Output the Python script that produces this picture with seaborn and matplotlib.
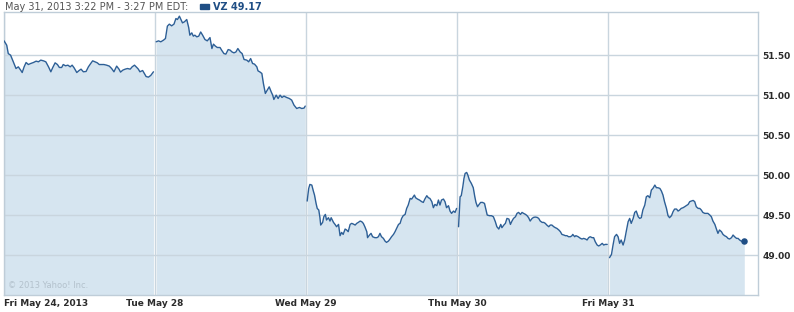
import numpy as np
import pandas as pd
import matplotlib
matplotlib.use("Agg")
import matplotlib.pyplot as plt
from matplotlib.patches import Rectangle
import seaborn as sns

# ---------------- data (minutes after 9:30 open, price) ----------------
day_labels = ["Fri May 24, 2013", "Tue May 28", "Wed May 29", "Thu May 30", "Fri May 31"]
y_ticks = [49.0, 49.5, 50.0, 50.5, 51.0, 51.5]

day0_t = [0, 7, 11, 17, 24, 31, 37, 43, 47, 52, 57, 63, 69, 76, 83, 89, 95, 102, 108, 115,
          121, 126, 132, 138, 143, 149, 153, 159, 165, 171, 176, 181, 188, 194, 199, 205, 212, 218, 224, 229,
          235, 241, 246, 252, 258, 265, 272, 278, 284, 291, 297, 301, 307, 313, 319, 326, 331, 337, 343, 347,
          351, 358, 362, 367, 373, 379, 386]
day0_p = [51.68, 51.625, 51.52, 51.50, 51.417, 51.333, 51.354, 51.313, 51.283, 51.354,
          51.408, 51.383, 51.396, 51.408, 51.425, 51.417, 51.438, 51.429, 51.417, 51.354,
          51.292, 51.346, 51.404, 51.383, 51.346, 51.346, 51.383, 51.367, 51.375, 51.354,
          51.375, 51.342, 51.283, 51.308, 51.325, 51.292, 51.296, 51.354, 51.396, 51.429,
          51.417, 51.404, 51.383, 51.383, 51.383, 51.375, 51.363, 51.333, 51.292, 51.363,
          51.325, 51.288, 51.313, 51.325, 51.333, 51.325, 51.354, 51.375, 51.346, 51.325,
          51.292, 51.308, 51.275, 51.233, 51.225, 51.246, 51.292]

day1_t = [3, 9, 15, 22, 27, 32, 37, 43, 49, 54, 58, 63, 67, 71, 76, 82, 87, 90, 95, 99,
          103, 108, 113, 118, 123, 129, 135, 142, 147, 151, 156, 161, 168, 172, 178, 183, 189, 194, 199, 204,
          209, 214, 220, 225, 230, 237, 242, 247, 252, 257, 263, 266, 271, 276, 280, 285, 290, 295, 300, 304,
          307, 313, 318, 323, 328, 333, 340, 347, 353, 359, 366, 373, 379, 385, 388]
day1_p = [51.667, 51.679, 51.667, 51.688, 51.708, 51.863, 51.888, 51.867, 51.888, 51.958,
          51.946, 51.988, 51.946, 51.904, 51.917, 51.946, 51.846, 51.75, 51.779, 51.738,
          51.75, 51.729, 51.738, 51.79, 51.75, 51.696, 51.679, 51.72, 51.583, 51.638,
          51.613, 51.596, 51.596, 51.563, 51.52, 51.513, 51.57, 51.563, 51.54, 51.529,
          51.54, 51.583, 51.54, 51.52, 51.446, 51.438, 51.417, 51.458, 51.396, 51.388,
          51.354, 51.304, 51.29, 51.271, 51.146, 51.021, 51.063, 51.104, 51.042, 51.0,
          50.946, 51.0, 50.958, 51.0, 50.971, 50.988, 50.971, 50.958, 50.938, 50.875,
          50.833, 50.846, 50.833, 50.838, 50.863]

day2_t = [3, 7, 10, 15, 19, 22, 26, 29, 33, 36, 38, 43, 46, 50, 53, 58, 62, 65, 71, 75,
          79, 84, 88, 92, 96, 101, 105, 109, 114, 118, 122, 127, 131, 135, 140, 144, 148, 152, 157, 159,
          164, 168, 172, 178, 183, 187, 191, 195, 200, 204, 208, 213, 217, 221, 226, 230, 234, 239, 243, 247,
          251, 256, 260, 264, 269, 273, 277, 280, 283, 288, 293, 299, 303, 307, 312, 316, 320, 325, 329, 333,
          338, 342, 346, 350, 355, 359, 363, 368, 372, 376, 381, 385, 389]
day2_p = [49.675, 49.833, 49.883, 49.875, 49.8, 49.75, 49.646, 49.583, 49.563, 49.467,
          49.375, 49.408, 49.479, 49.508, 49.438, 49.467, 49.425, 49.467, 49.408, 49.383,
          49.354, 49.383, 49.242, 49.283, 49.258, 49.325, 49.313, 49.292, 49.383, 49.396,
          49.388, 49.375, 49.396, 49.408, 49.425, 49.417, 49.396, 49.354, 49.292, 49.217,
          49.25, 49.271, 49.229, 49.217, 49.217, 49.229, 49.271, 49.229, 49.208, 49.175,
          49.158, 49.175, 49.2, 49.229, 49.258, 49.292, 49.333, 49.383, 49.396, 49.458,
          49.492, 49.508, 49.583, 49.625, 49.708, 49.7, 49.729, 49.75, 49.717, 49.7,
          49.688, 49.667, 49.658, 49.7, 49.742, 49.717, 49.708, 49.667, 49.592, 49.633,
          49.617, 49.688, 49.625, 49.688, 49.7, 49.667, 49.592, 49.617, 49.55, 49.521,
          49.55, 49.533, 49.583]

day3_t = [4, 8, 11, 15, 18, 21, 25, 28, 32, 37, 42, 46, 49, 53, 56, 61, 66, 71, 75, 78,
          84, 89, 94, 99, 103, 108, 113, 116, 121, 125, 129, 134, 138, 142, 146, 151, 155, 159, 164, 168,
          172, 177, 181, 185, 189, 194, 198, 202, 207, 211, 215, 220, 224, 228, 232, 237, 241, 245, 250, 254,
          258, 263, 267, 271, 276, 280, 284, 288, 293, 297, 299, 304, 307, 313, 319, 323, 327, 332, 336, 340,
          344, 349, 353, 357, 362, 366, 370, 375, 379, 383, 388]
day3_p = [49.354, 49.729, 49.742, 49.854, 49.958, 50.021, 50.033, 50.0, 49.938, 49.896,
          49.842, 49.729, 49.658, 49.604, 49.625, 49.658, 49.658, 49.646, 49.563, 49.5,
          49.492, 49.492, 49.479, 49.417, 49.354, 49.325, 49.383, 49.342, 49.375, 49.396,
          49.458, 49.45, 49.383, 49.425, 49.458, 49.479, 49.521, 49.533, 49.508, 49.533,
          49.521, 49.508, 49.492, 49.467, 49.425, 49.458, 49.471, 49.475, 49.471, 49.458,
          49.425, 49.408, 49.408, 49.396, 49.375, 49.354, 49.375, 49.375, 49.354, 49.342,
          49.333, 49.313, 49.292, 49.258, 49.25, 49.242, 49.242, 49.229, 49.229, 49.242,
          49.258, 49.229, 49.242, 49.229, 49.208, 49.2, 49.208, 49.2, 49.188, 49.217,
          49.229, 49.217, 49.217, 49.167, 49.125, 49.113, 49.125, 49.146, 49.125, 49.133,
          49.133]

day4_t = [4, 9, 13, 17, 22, 26, 30, 34, 39, 43, 47, 52, 56, 60, 65, 69, 73, 78, 82, 86,
          90, 95, 99, 103, 108, 112, 116, 121, 125, 129, 134, 138, 142, 146, 151, 155, 159, 164, 168, 172,
          177, 181, 185, 189, 194, 198, 202, 207, 211, 215, 220, 224, 228, 233, 237, 241, 245, 250, 254, 258,
          263, 267, 271, 276, 280, 284, 288, 293, 297, 301, 306, 310, 314, 319, 323, 327, 332, 336, 340, 344,
          349, 352]
day4_p = [48.967, 49.008, 49.125, 49.229, 49.258, 49.229, 49.146, 49.188, 49.125, 49.188,
          49.292, 49.417, 49.458, 49.396, 49.458, 49.533, 49.55, 49.479, 49.458, 49.467,
          49.563, 49.625, 49.729, 49.742, 49.717, 49.813, 49.833, 49.875, 49.842, 49.842,
          49.833, 49.8, 49.75, 49.667, 49.583, 49.492, 49.467, 49.492, 49.542, 49.575,
          49.575, 49.55, 49.563, 49.583, 49.592, 49.604, 49.617, 49.633, 49.667, 49.675,
          49.683, 49.667, 49.604, 49.583, 49.583, 49.563, 49.533, 49.521, 49.521, 49.521,
          49.5, 49.479, 49.425, 49.383, 49.325, 49.271, 49.313, 49.292, 49.258, 49.242,
          49.229, 49.208, 49.2, 49.217, 49.25, 49.229, 49.208, 49.208, 49.188, 49.175,
          49.167, 49.17]

days_t = [day0_t, day1_t, day2_t, day3_t, day4_t]
days_p = [day0_p, day1_p, day2_p, day3_p, day4_p]
SESSION = 390.0  # minutes per trading day
Y_MIN, Y_MAX = 48.5, 52.04

frames = []
for d, (t, p) in enumerate(zip(days_t, days_p)):
    frames.append(pd.DataFrame({"day": d, "x": d + np.array(t) / SESSION, "price": p}))
df = pd.concat(frames, ignore_index=True)

# ---------------- style ----------------
LINE = "#2d5f96"
FILL = "#d6e5f0"
GRID = "#c9d5de"
SPINE = "#bfcdd8"
DOT = "#1f4e85"
TXT = "#2b2b2b"

sns.set_theme(style="white")
plt.rcParams["font.family"] = ["DejaVu Sans"]

fig = plt.figure(figsize=(7.94, 3.12), dpi=100)
ax = fig.add_axes([4 / 794, 17 / 312, 754 / 794, 283 / 312])

for d, g in df.groupby("day"):
    ax.fill_between(g["x"], g["price"], Y_MIN, color=FILL, lw=0, zorder=1)

sns.lineplot(data=df, x="x", y="price", units="day", estimator=None, sort=False,
             color=LINE, lw=1.0, ax=ax, zorder=3)

last = df.iloc[-1]
ax.scatter([last["x"]], [last["price"]], s=22, color=DOT, zorder=5, linewidths=0)

ax.set_xlim(0, 754 / 151)
ax.set_ylim(Y_MIN, Y_MAX)
ax.set_axisbelow("line")
ax.set_xticks(range(len(day_labels)))
ax.set_xticklabels(day_labels)
ax.set_yticks(y_ticks)
ax.set_yticklabels([f"{v:.2f}" for v in y_ticks])
ax.yaxis.tick_right()
ax.grid(True, color=GRID, lw=1.0)
ax.tick_params(axis="both", length=0, labelsize=6.5, labelcolor=TXT)
ax.tick_params(axis="x", pad=3)
ax.tick_params(axis="y", pad=3)
for lab in ax.get_xticklabels() + ax.get_yticklabels():
    lab.set_fontweight("bold")
ax.get_xticklabels()[0].set_ha("left")
ax.set_xlabel("")
ax.set_ylabel("")
for s in ax.spines.values():
    s.set_visible(True)
    s.set_color(SPINE)
    s.set_linewidth(1.0)

# header
fig.text(5 / 794, 1 - 6.5 / 312, "May 31, 2013 3:22 PM - 3:27 PM EDT:",
         fontsize=7, color="#555555", va="center", ha="left")
fig.patches.append(Rectangle((200 / 794, 1 - 9 / 312), 9 / 794, 5 / 312,
                             transform=fig.transFigure, color=DOT, figure=fig))
fig.text(213 / 794, 1 - 6.5 / 312, f"VZ {day4_p[-1]:.2f}", fontsize=7, fontweight="bold",
         color="#1f4e85", va="center", ha="left")

fig.text(8 / 794, 1 - 286 / 312, "\u00a9 2013 Yahoo! Inc.", fontsize=6,
         color="#b3c1cc", va="center", ha="left")

fig.savefig("out.png", dpi=100)
